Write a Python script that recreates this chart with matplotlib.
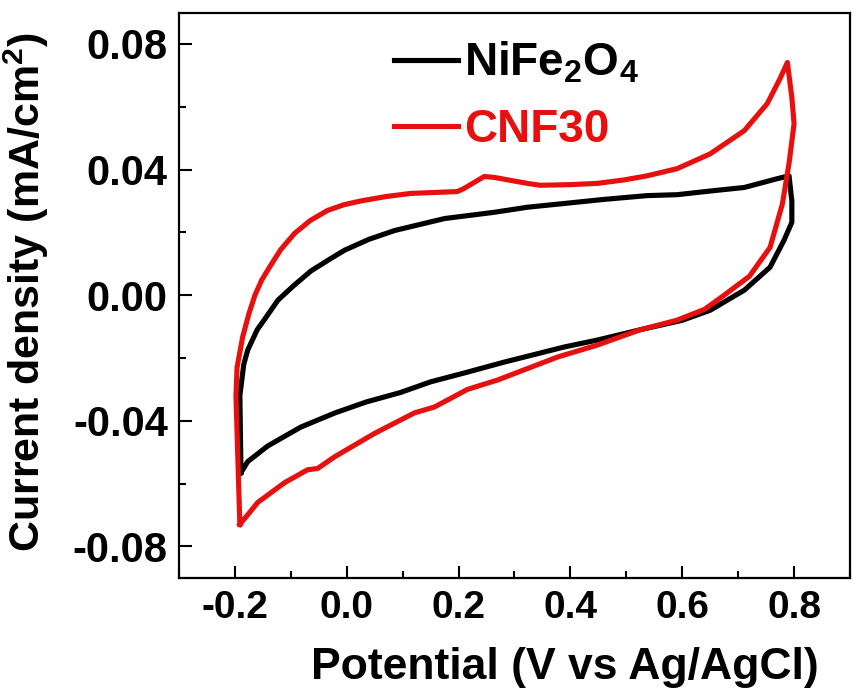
import numpy as np
import matplotlib
matplotlib.use('Agg')
import matplotlib.pyplot as plt
from matplotlib.ticker import MultipleLocator, FormatStrFormatter

#%%
# dati: potenziale (V vs Ag/AgCl) e densita di corrente (mA/cm2)
# NiFe2O4 - ciclo completo
nife_v = [-0.189, -0.191, -0.184, -0.177, -0.160, -0.146, -0.123, -0.095, -0.064,
          -0.030, -0.004, 0.040, 0.086, 0.175, 0.264, 0.323, 0.389, 0.460, 0.537,
          0.591, 0.657, 0.711, 0.770, 0.791, 0.796, 0.796, 0.782, 0.757, 0.711,
          0.650, 0.600, 0.525, 0.448, 0.389, 0.282, 0.216, 0.150, 0.096, 0.035,
          -0.021, -0.082, -0.141, -0.177, -0.189]
nife_j = [-0.0565, -0.0320, -0.0220, -0.0175, -0.0110, -0.0075, -0.0016, 0.0030, 0.0077,
          0.0115, 0.0143, 0.0178, 0.0206, 0.0244, 0.0264, 0.0280, 0.0292, 0.0305, 0.0317,
          0.0320, 0.0333, 0.0343, 0.0371, 0.0380, 0.0300, 0.0232, 0.0175, 0.0089, 0.0016,
          -0.0048, -0.0080, -0.0110, -0.0143, -0.0165, -0.0213, -0.0245, -0.0276, -0.0310, -0.0340,
          -0.0375, -0.0420, -0.0480, -0.0530, -0.0565]

# CNF30 - ciclo completo
cnf_v = [-0.191, -0.198, -0.196, -0.186, -0.175, -0.164, -0.152, -0.138, -0.118,
         -0.093, -0.065, -0.034, -0.005, 0.025, 0.070, 0.114, 0.198, 0.210, 0.246,
         0.264, 0.323, 0.346, 0.400, 0.448, 0.496, 0.537, 0.591, 0.650, 0.711,
         0.752, 0.775, 0.788, 0.796, 0.800, 0.791, 0.779, 0.757, 0.720, 0.675,
         0.640, 0.590, 0.525, 0.448, 0.377, 0.270, 0.216, 0.157, 0.121, 0.050,
         -0.021, -0.052, -0.070, -0.111, -0.159, -0.191]
cnf_j = [-0.0730, -0.0320, -0.0230, -0.0133, -0.0060, 0.0000, 0.0048, 0.0089, 0.0145,
         0.0197, 0.0238, 0.0270, 0.0288, 0.0300, 0.0314, 0.0324, 0.0330, 0.0340, 0.0378,
         0.0375, 0.0356, 0.0350, 0.0352, 0.0356, 0.0367, 0.0380, 0.0403, 0.0450, 0.0524,
         0.0610, 0.0690, 0.0741, 0.0630, 0.0546, 0.0420, 0.0290, 0.0152, 0.0060, 0.0000,
         -0.0045, -0.0080, -0.0110, -0.0159, -0.0197, -0.0270, -0.0300, -0.0356, -0.0375, -0.0440,
         -0.0514, -0.0552, -0.0556, -0.0597, -0.0660, -0.0730]

x_ticks = [-0.2, 0.0, 0.2, 0.4, 0.6, 0.8]
y_ticks = [-0.08, -0.04, 0.00, 0.04, 0.08]

#%%
plt.rcParams['font.family'] = ['Liberation Sans', 'DejaVu Sans']
plt.rcParams['font.weight'] = 'bold'
plt.rcParams['axes.unicode_minus'] = False
plt.rcParams['mathtext.fontset'] = 'custom'
plt.rcParams['mathtext.rm'] = 'Liberation Sans:bold'
plt.rcParams['mathtext.bf'] = 'Liberation Sans:bold'

fig = plt.figure(figsize=(8.56, 6.97), dpi=100)
ax = fig.add_axes([0.209, 0.171, 0.784, 0.811])

ax.plot(nife_v, nife_j, color='black', lw=3.7, solid_joinstyle='round',
        label=r'NiFe$_\mathbf{2}$O$_\mathbf{4}$')
ax.plot(cnf_v, cnf_j, color='#e8100f', lw=3.7, solid_joinstyle='round',
        label='CNF30')

ax.set_xlim(-0.3, 0.9)
ax.set_ylim(-0.09, 0.09)
ax.set_xticks(x_ticks)
ax.set_yticks(y_ticks)
ax.xaxis.set_minor_locator(MultipleLocator(0.1))
ax.yaxis.set_minor_locator(MultipleLocator(0.02))
ax.xaxis.set_major_formatter(FormatStrFormatter('%.1f'))
ax.yaxis.set_major_formatter(FormatStrFormatter('%.2f'))

ax.tick_params(which='both', direction='in', top=False, right=False, width=1.5)
ax.tick_params(which='major', length=9)
ax.tick_params(which='minor', length=5)
ax.tick_params(axis='y', labelsize=30, pad=8)
ax.tick_params(axis='x', labelsize=28, pad=9)
for sp in ax.spines.values():
    sp.set_linewidth(1.6)

ax.set_xlabel('Potential (V vs Ag/AgCl)', fontsize=32, fontweight='bold')
ax.set_ylabel(r'Current density (mA/cm$^2$)', fontsize=31, fontweight='bold')
ax.xaxis.set_label_coords(0.575, -0.123)
ax.yaxis.set_label_coords(-0.19, 0.506)

leg = ax.legend(loc='upper left', bbox_to_anchor=(0.28, 1.0), frameon=False,
                fontsize=33, handlelength=1.4, handletextpad=0.12,
                labelspacing=0.5, borderaxespad=0.2)
for t, c in zip(leg.get_texts(), ['black', '#e8100f']):
    t.set_color(c)
    t.set_fontweight('bold')

fig.savefig('out.png', dpi=100)
